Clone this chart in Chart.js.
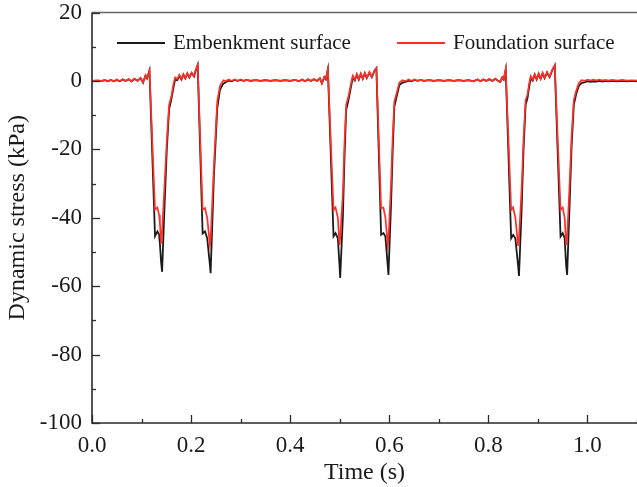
<!DOCTYPE html>
<html><head><meta charset="utf-8">
<script src="https://cdn.jsdelivr.net/npm/chart.js@4.4.1/dist/chart.umd.min.js"></script>
<style>html,body{margin:0;padding:0;background:#fff;}#wrap{width:637px;height:487px;}</style>
</head><body><div id="wrap"><canvas id="c" width="637" height="487"></canvas></div>
<script>
// Time (s)
const timeS = [
0.000,0.010,0.020,0.026,0.032,0.038,0.044,0.050,0.056,0.062,0.068,0.074,0.080,0.086,0.092,0.098,0.103,0.108,0.111,0.116,
0.1272,0.1320,0.1355,0.1370,0.1395,0.1415,0.1455,0.1510,0.1556,0.1603,0.1643,0.1677,0.1723,0.1764,0.1804,0.1844,0.1884,0.1925,0.1965,0.2012,0.2059,0.2099,0.2133,
0.2233,0.2280,0.2325,0.2381,0.2394,0.2460,0.2528,0.2582,0.2649,0.2700,
0.2760,0.2820,0.2880,0.2940,0.3000,0.3060,0.3120,0.3200,0.3300,0.3400,
0.3500,0.3600,0.3700,0.3800,0.3900,0.4000,0.4100,0.4180,0.4240,0.4300,
0.4360,0.4420,0.4480,0.4540,0.4600,0.4640,0.4690,0.4720,0.4761,
0.4875,0.4915,0.4962,0.4996,0.5009,0.5063,0.5097,0.5130,0.5177,0.5230,
0.5264,0.5304,0.5345,0.5385,0.5425,0.5465,0.5506,0.5546,0.5600,0.5647,0.5700,0.5740,
0.5835,0.5882,0.5922,0.5969,0.5983,0.6036,0.6070,0.6103,0.6150,0.6204,
0.6270,0.6330,0.6390,0.6450,0.6510,0.6570,0.6630,0.6700,0.6800,0.6900,
0.7000,0.7100,0.7200,0.7300,0.7400,0.7500,0.7600,0.7700,0.7780,0.7840,
0.7900,0.7960,0.8020,0.8080,0.8140,0.8200,0.8240,0.8280,0.8310,0.8350,
0.8460,0.8500,0.8545,0.8600,0.8618,0.8670,0.8710,0.8752,0.8790,0.8820,
0.8855,0.8895,0.8935,0.8975,0.9015,0.9055,0.9095,0.9135,0.9185,0.9235,0.9290,0.9340,
0.9457,0.9500,0.9540,0.9570,0.9590,0.9640,0.9680,0.9725,0.9770,0.9825,
0.9880,0.9940,1.0000,1.0060,1.0120,1.0180,1.0240,1.0300,1.0360,1.0420,
1.0500,1.0600,1.0700,1.0800,1.0900,1.1000
];
// Embankment surface dynamic stress (kPa)
const embankment = [
0.0,0.1,0.0,0.2,-0.1,0.3,-0.1,0.3,-0.1,0.4,0.0,0.5,-0.1,0.6,0.0,0.8,-0.5,1.5,0.7,3.0,
-45.4,-44.0,-45.0,-47.5,-53.0,-55.8,-40.0,-20.0,-8.3,-5.2,-2.0,0.4,0.2,1.5,0.4,1.8,0.7,2.1,1.0,2.3,1.3,3.3,4.6,
-44.6,-44.0,-46.0,-54.0,-56.2,-28.0,-8.0,-2.6,-0.8,-0.4,
0.1,-0.1,0.3,0.0,0.3,0.0,0.3,0.0,0.2,0.0,
0.2,0.0,0.2,0.0,0.2,0.0,0.3,-0.1,0.4,-0.1,
0.4,0.0,0.5,0.0,0.7,-0.7,1.1,0.5,3.4,
-45.4,-44.5,-46.0,-54.0,-57.6,-40.0,-22.0,-8.5,-5.5,-1.5,
1.0,0.1,1.8,0.4,2.0,0.6,2.2,0.8,2.4,1.1,2.9,3.7,
-45.0,-44.5,-45.5,-54.0,-56.7,-36.0,-20.0,-7.5,-4.5,-1.2,
-0.5,-0.3,0.1,-0.1,0.3,0.0,0.3,0.0,0.2,0.0,
0.2,0.0,0.2,0.0,0.2,0.0,0.2,-0.1,0.4,-0.1,
0.4,0.0,0.5,0.0,0.6,0.0,-0.3,1.0,0.4,3.3,
-46.0,-45.0,-46.0,-54.0,-57.0,-38.0,-20.0,-7.0,-5.0,-2.0,
0.8,0.1,1.8,0.4,2.0,0.6,2.2,0.8,2.4,1.1,3.1,4.5,
-45.5,-44.5,-46.0,-54.0,-56.7,-36.0,-19.0,-7.0,-4.0,-1.5,
-0.6,-0.4,-0.1,-0.3,-0.1,-0.2,0.0,-0.2,0.0,-0.1,
0.0,-0.1,0.0,-0.1,0.0,-0.1
];
// Foundation surface dynamic stress (kPa)
const foundation = [
0.0,0.1,0.0,0.3,-0.1,0.3,-0.1,0.4,-0.1,0.5,0.0,0.5,-0.1,0.7,0.0,0.9,-0.5,1.6,0.8,3.1,
-37.6,-37.0,-39.2,-41.5,-47.6,-44.0,-33.0,-17.5,-7.0,-4.5,-1.0,1.0,0.5,1.8,0.5,2.0,0.8,2.3,1.1,2.4,1.4,3.4,4.7,
-37.6,-37.2,-40.0,-48.0,-46.5,-25.0,-6.0,-1.5,0.2,-0.1,
0.4,0.0,0.4,0.0,0.4,0.0,0.3,0.0,0.3,0.0,
0.2,0.0,0.2,0.0,0.2,0.0,0.3,-0.1,0.4,-0.1,
0.5,0.0,0.6,0.0,0.8,-0.7,1.2,0.6,3.5,
-37.7,-37.0,-40.0,-48.0,-46.0,-33.0,-18.0,-7.0,-4.5,-0.6,
1.5,0.3,2.0,0.5,2.2,0.7,2.4,0.9,2.6,1.2,3.0,3.8,
-37.2,-37.0,-40.0,-48.0,-46.5,-30.0,-16.0,-6.0,-3.5,-0.5,
0.2,-0.1,0.4,0.0,0.4,0.0,0.3,0.0,0.3,0.0,
0.2,0.0,0.2,0.0,0.2,0.0,0.2,-0.1,0.4,-0.1,
0.5,0.0,0.6,0.0,0.7,0.0,-0.3,1.1,0.5,3.4,
-37.7,-37.0,-40.0,-48.0,-46.0,-32.0,-17.0,-5.6,-4.0,-1.0,
1.4,0.3,2.0,0.5,2.2,0.7,2.4,0.9,2.6,1.2,3.2,4.6,
-37.7,-37.0,-40.0,-48.0,-46.0,-30.0,-16.0,-5.6,-3.0,-0.7,
0.2,0.0,0.4,0.1,0.4,0.1,0.4,0.1,0.3,0.1,
0.3,0.1,0.3,0.1,0.2,0.1
];
const seriesLabels = ['Embenkment surface', 'Foundation surface'];
const xMajorTicks = [0.0, 0.2, 0.4, 0.6, 0.8, 1.0];
const yMajorTicks = [20, 0, -20, -40, -60, -80, -100];
const xTitle = 'Time (s)';
const yTitle = 'Dynamic stress (kPa)';

const SERIF = "'Liberation Serif','Times New Roman',serif";
const isMajor = (v, list) => list.some(m => Math.abs(m - v) < 1e-6);

const framePlugin = {
  id: 'frame',
  afterDraw(chart) {
    const { ctx, chartArea: a, scales: { x, y } } = chart;
    ctx.save();
    ctx.lineCap = 'butt';
    // top border
    ctx.strokeStyle = '#666'; ctx.lineWidth = 1.3;
    ctx.beginPath(); ctx.moveTo(a.left, a.top); ctx.lineTo(a.right, a.top); ctx.stroke();
    // axes
    ctx.strokeStyle = '#2a2a2a'; ctx.lineWidth = 1.6;
    ctx.beginPath(); ctx.moveTo(a.left, a.top); ctx.lineTo(a.left, a.bottom); ctx.lineTo(a.right, a.bottom); ctx.stroke();
    ctx.lineWidth = 1.3;
    x.ticks.forEach(t => {
      const px = Math.round(x.getPixelForValue(t.value)) + 0.5;
      const len = isMajor(t.value, xMajorTicks) ? 8 : 4;
      ctx.beginPath(); ctx.moveTo(px, a.bottom); ctx.lineTo(px, a.bottom - len); ctx.stroke();
    });
    y.ticks.forEach(t => {
      const py = Math.round(y.getPixelForValue(t.value)) + 0.5;
      const len = isMajor(t.value, yMajorTicks) ? 8 : 4;
      ctx.beginPath(); ctx.moveTo(a.left, py); ctx.lineTo(a.left + len, py); ctx.stroke();
    });
    // legend (inside plot, top)
    const ds = chart.data.datasets;
    const items = [ {ds: ds[1], x0: a.left + 25}, {ds: ds[0], x0: a.left + 305} ];
    ctx.font = '21px ' + SERIF;
    ctx.textBaseline = 'alphabetic';
    ctx.fillStyle = '#1a1a1a';
    items.forEach(it => {
      ctx.strokeStyle = it.ds.borderColor; ctx.lineWidth = 1.8;
      ctx.beginPath(); ctx.moveTo(it.x0, a.top + 30.5); ctx.lineTo(it.x0 + 48, a.top + 30.5); ctx.stroke();
      ctx.fillText(it.ds.label, it.x0 + 56, a.top + 36);
    });
    ctx.restore();
  }
};

const toPts = arr => timeS.map((t, i) => ({ x: t, y: arr[i] }));

new Chart(document.getElementById('c'), {
  type: 'line',
  data: {
    datasets: [
      { label: seriesLabels[1], data: toPts(foundation), borderColor: '#ff2e26', borderWidth: 1.7, pointRadius: 0, tension: 0, order: 0 },
      { label: seriesLabels[0], data: toPts(embankment), borderColor: '#1a1a1a', borderWidth: 1.8, pointRadius: 0, tension: 0, order: 1 }
    ]
  },
  options: {
    responsive: false,
    animation: false,
    devicePixelRatio: 1,
    layout: { padding: { top: 12.5, right: 0, left: 0, bottom: 0 } },
    plugins: { legend: { display: false }, tooltip: { enabled: false } },
    scales: {
      x: {
        type: 'linear', min: 0, max: 1.1,
        grid: { display: false, drawTicks: false, tickLength: 0 },
        border: { display: false },
        ticks: {
          stepSize: 0.1, autoSkip: false, maxRotation: 0, padding: 9,
          color: '#1a1a1a', font: { family: SERIF, size: 23 },
          callback: v => isMajor(v, xMajorTicks) ? v.toFixed(1) : ''
        },
        title: { display: true, text: xTitle, color: '#1a1a1a', font: { family: SERIF, size: 24 }, padding: { top: 7, bottom: 0 } },
        afterFit: s => { s.height = 64; s.paddingLeft = 0; s.paddingRight = 0; }
      },
      y: {
        type: 'linear', min: -100, max: 20,
        grid: { display: false, drawTicks: false, tickLength: 0 },
        border: { display: false },
        ticks: {
          stepSize: 10, autoSkip: false, padding: 10,
          color: '#1a1a1a', font: { family: SERIF, size: 23 },
          callback: v => isMajor(v, yMajorTicks) ? String(Math.round(v)) : ''
        },
        title: { display: true, text: yTitle, color: '#1a1a1a', font: { family: SERIF, size: 24 }, padding: { top: 3, bottom: 0 } },
        afterFit: s => { s.width = 92; s.paddingTop = 0; s.paddingBottom = 0; }
      }
    }
  },
  plugins: [framePlugin]
});
</script>
</body></html>
